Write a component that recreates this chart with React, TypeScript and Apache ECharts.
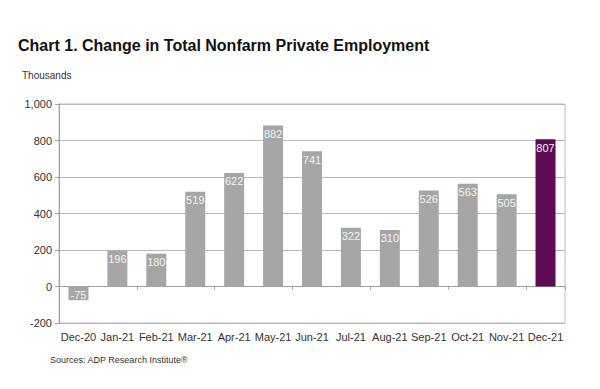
import React, { useEffect, useRef } from "react";
import * as echarts from "echarts";

const categories = ["Dec-20", "Jan-21", "Feb-21", "Mar-21", "Apr-21", "May-21", "Jun-21", "Jul-21", "Aug-21", "Sep-21", "Oct-21", "Nov-21", "Dec-21"];
const values = [-75, 196, 180, 519, 622, 882, 741, 322, 310, 526, 563, 505, 807];
const highlightIndex = 12;

const titleText = "Chart 1. Change in Total Nonfarm Private Employment";
const unitText = "Thousands";
const sourceText = "Sources: ADP Research Institute®";

export default function App() {
  const ref = useRef<HTMLDivElement>(null);
  useEffect(() => {
    if (!ref.current) return;
    const chart = echarts.init(ref.current, null, { renderer: "svg" });
    const font = "'Liberation Sans', Arial, sans-serif";
    chart.setOption({
      animation: false,
      backgroundColor: "#ffffff",
      textStyle: { fontFamily: font },
      grid: { left: 59, right: 35, top: 104, bottom: 66, show: true, borderColor: "#c0c0c0", borderWidth: 1, containLabel: false },
      graphic: [
        { type: "text", left: 18, top: 37, style: { text: titleText, font: "bold 16px " + font, fill: "#111" } },
        { type: "text", left: 22, top: 70, style: { text: unitText, font: "10px " + font, fill: "#333" } },
        { type: "text", left: 50, top: 355, style: { text: sourceText, font: "9px " + font, fill: "#333" } },
      ],
      xAxis: [
        {
          type: "category",
          data: categories,
          position: "bottom",
          axisLine: { show: false, onZero: false },
          axisTick: { show: false },
          axisLabel: { color: "#333", fontSize: 11, margin: 8, interval: 0 },
        },
        {
          type: "category",
          data: categories,
          position: "top",
          axisLine: { show: true, onZero: true, lineStyle: { color: "#a0a0a0" } },
          axisTick: { show: true, inside: true, length: 3, lineStyle: { color: "#a0a0a0" } },
          axisLabel: { show: false },
        },
      ],
      yAxis: {
        type: "value",
        min: -200,
        max: 1000,
        interval: 200,
        axisLine: { show: true, lineStyle: { color: "#a0a0a0" } },
        axisTick: { show: true, length: 4, lineStyle: { color: "#a0a0a0" } },
        splitLine: { show: true, lineStyle: { color: "#b8b8b8" } },
        axisLabel: {
          color: "#333",
          fontSize: 11,
          margin: 7,
          formatter: (v: number) => v.toLocaleString("en-US"),
        },
      },
      series: [
        {
          type: "bar",
          xAxisIndex: 0,
          barWidth: 20,
          data: values.map((v, i) => ({
            value: v,
            itemStyle: { color: i === highlightIndex ? "#5e0a55" : "#a6a6a6" },
          })),
          label: {
            show: true,
            position: "insideTop",
            distance: 3,
            color: "#f4f4f4",
            fontSize: 11,
          },
        },
      ],
    });
    return () => chart.dispose();
  }, []);
  return <div ref={ref} style={{ width: 600, height: 389, position: "absolute", left: 0, top: 0 }} />;
}
